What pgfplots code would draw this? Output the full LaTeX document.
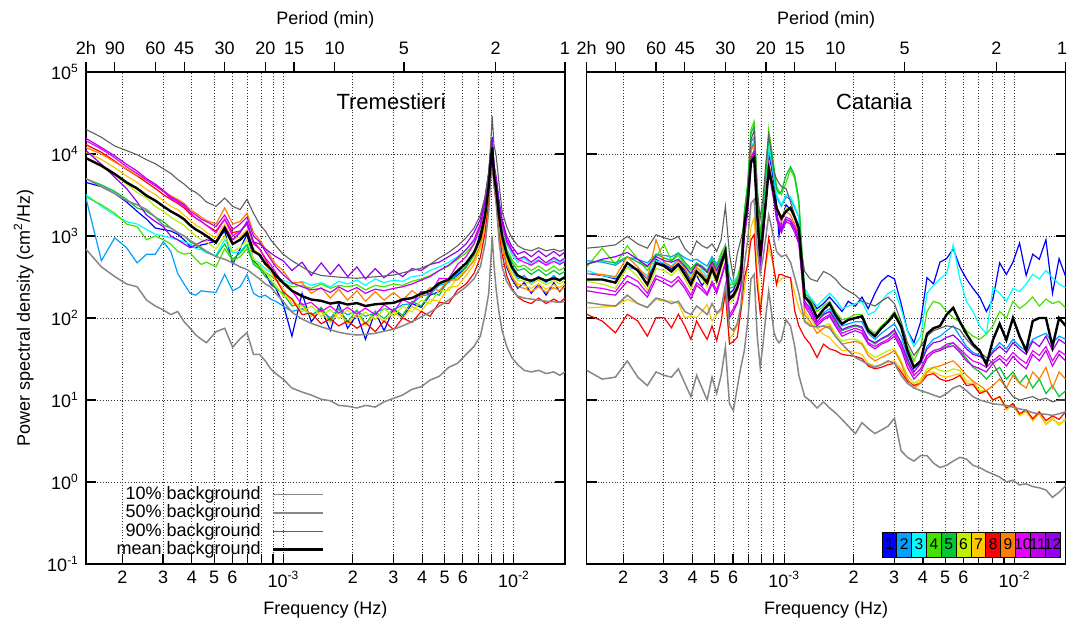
\documentclass[border=0pt]{standalone}
\usepackage{fontspec}
\setmainfont{Liberation Sans}
\usepackage{pgfplots}
\usepackage{pgfplotstable}
\pgfplotsset{compat=1.18}

\definecolor{c1}{RGB}{0,0,255}
\definecolor{c2}{RGB}{0,160,255}
\definecolor{c3}{RGB}{0,255,255}
\definecolor{c4}{RGB}{70,225,0}
\definecolor{c5}{RGB}{0,200,50}
\definecolor{c6}{RGB}{190,240,0}
\definecolor{c7}{RGB}{255,200,0}
\definecolor{c8}{RGB}{255,0,0}
\definecolor{c9}{RGB}{255,128,0}
\definecolor{c10}{RGB}{230,0,255}
\definecolor{c11}{RGB}{190,0,235}
\definecolor{c12}{RGB}{150,0,240}
\definecolor{bglight}{RGB}{135,135,135}
\definecolor{bgdark}{RGB}{95,95,95}

\newcommand\addcolumn[3]{\pgfplotstablecreatecol[create col/set list={#3}]{#2}{#1}}

% frequency = k * 1/(12 h)
% ---------- Tremestieri ----------
\pgfplotstablenew[create on use/k/.style={create col/set list={6,7,8,9,10,11,12,13,14,15,16,17,18,19,20,22,24,26,28,30,32,34,36,38,40,43,47,52,57,63,69,75,82,90,98,108,118,130,142,156,171,187,205,225,246,268,290,309,324,336,343,348,354,362,372,384,402,423,449,479,514,553,596,644,683,720}},columns={k}]{66}\TL
\addcolumn\TL{p90}{20000,16000,12500,11000,9800,8500,7600,6600,5800,4900,4300,3700,3400,3000,2600,2300,2900,2300,2100,2800,1900,1400,1150,900,760,600,500,420,360,330,322,315,310,305,312,318,325,335,355,380,405,450,540,630,760,950,1250,1800,3000,6000,14000,29000,13000,9500,4500,2000,1300,950,760,690,660,720,660,690,650,690}
\addcolumn\TL{p50}{5000,4000,3300,2700,2400,2100,1700,1350,1250,1100,1000,880,800,720,650,560,520,470,420,390,340,300,260,240,200,160,118,97,86,78,72,67,64,62,63,65,69,73,80,90,103,118,140,165,200,240,300,420,800,2000,5500,9000,4500,2500,900,420,280,220,185,175,170,165,160,158,155,160}
\addcolumn\TL{p10}{690,420,320,260,240,165,140,125,110,120,90,75,62,55,50,68,75,44,56,66,36,36,30,24,21,18,14,12.5,11.5,10.2,9.8,8.6,8.4,8.0,8.6,8.2,9.5,10.5,11.5,13.5,14.5,17.5,19.5,25,28,36,45,60,110,200,500,1000,450,220,120,70,45,33,27,23,22,23,21,22,20,22}
\addcolumn\TL{mean}{8900,7200,5700,4500,3800,3100,2700,2300,2000,1800,1600,1350,1200,1100,1000,830,1250,800,900,1100,650,590,460,400,330,270,215,185,168,162,150,156,146,152,140,147,150,153,168,175,198,215,265,295,375,465,630,950,1800,4000,8000,12000,5500,3700,1800,1000,600,420,330,300,285,310,285,305,290,315}
\addcolumn\TL{s1}{4500,4000,3300,2600,2000,1600,1250,1200,1150,1050,900,750,720,780,800,870,1150,450,700,1050,500,420,350,260,230,150,60,200,90,130,70,150,75,110,55,120,70,130,100,150,135,190,210,290,330,420,600,1100,2200,5500,11000,16000,7000,4000,1500,800,420,300,230,270,200,260,190,270,210,250}
\addcolumn\TL{s2}{2900,500,950,720,470,600,600,850,650,350,260,200,190,215,210,205,340,215,240,340,200,180,190,170,160,140,120,130,110,125,100,130,110,120,105,115,130,125,145,150,185,195,250,270,350,420,600,900,1800,4500,9000,12000,6000,4000,1800,1000,560,400,300,330,260,320,270,330,280,320}
\addcolumn\TL{s3}{3200,2300,1800,1500,1400,1200,1050,1000,950,900,850,800,700,680,620,580,900,620,650,800,520,470,400,360,320,290,260,280,250,270,240,280,260,290,250,300,270,290,280,320,330,380,420,480,560,680,850,1300,2400,5000,9000,13000,6500,4500,2300,1300,800,600,480,540,450,520,440,530,460,520}
\addcolumn\TL{s4}{3000,2400,1900,1400,1300,900,1000,900,800,650,600,620,520,450,480,420,700,500,560,700,480,420,360,330,290,270,240,250,230,260,230,250,240,255,220,250,240,260,250,280,300,330,380,430,520,620,800,1200,2200,4500,8500,12000,6000,4200,2000,1200,700,520,420,440,380,430,370,430,380,420}
\addcolumn\TL{s5}{5000,4200,3500,2800,2200,2000,1700,1500,1250,1100,1000,850,780,700,650,560,800,520,620,780,450,400,320,280,230,200,140,150,105,135,92,130,90,125,85,120,98,130,108,160,140,200,190,290,310,420,580,900,1800,4000,7500,11000,5500,3800,1900,1100,650,480,380,400,340,390,330,380,340,370}
\addcolumn\TL{s6}{9000,7000,5500,4300,3400,2900,2300,2000,1700,1500,1350,1150,1000,900,850,700,1000,650,720,900,520,450,360,300,250,185,175,120,140,105,128,98,125,100,118,95,130,105,140,118,165,150,220,215,320,380,520,800,1500,3500,7000,10000,5000,3400,1600,900,520,360,290,280,260,290,255,285,260,290}
\addcolumn\TL{s7}{10500,8600,6800,5400,4500,3700,3200,2700,2300,2100,1800,1550,1350,1250,1100,950,1400,900,980,1200,700,600,450,370,290,230,150,140,105,120,88,118,85,112,82,110,90,118,98,138,120,168,160,235,245,330,450,700,1300,3000,6000,9000,4500,3000,1400,780,450,320,260,250,230,260,225,255,235,260}
\addcolumn\TL{s8}{13000,10500,8200,6500,5400,4500,3800,3200,2800,2500,2200,1850,1650,1500,1350,1150,1600,1100,1150,1400,850,700,520,400,300,210,170,110,115,85,98,80,92,75,88,68,92,72,100,88,120,105,155,150,220,260,350,550,1100,2600,5500,8000,4000,2600,1100,600,330,230,180,160,150,175,150,170,155,175}
\addcolumn\TL{s9}{12000,10000,8000,6600,5500,4800,4100,3500,3100,2800,2500,2100,1900,1700,1550,1400,2200,1400,1500,1900,1100,900,700,560,450,380,270,270,200,235,175,225,165,215,160,210,165,205,165,215,180,235,215,290,290,380,500,780,1500,3500,7000,10500,5000,3400,1500,800,450,320,240,230,210,240,205,235,215,240}
\addcolumn\TL{s10}{14500,11500,9000,7000,5800,4800,4100,3500,2900,2600,2300,1900,1650,1500,1350,1100,1600,1000,1150,1400,800,700,540,450,360,260,215,145,155,120,140,115,135,112,132,110,145,120,168,148,212,195,305,300,450,560,800,1300,2500,5500,10000,14000,7000,4800,2400,1400,850,650,520,480,440,500,440,490,450,490}
\addcolumn\TL{s11}{15500,12000,9500,7500,6200,5000,4300,3600,3000,2700,2400,2000,1800,1600,1500,1300,1800,1200,1400,1700,1000,850,650,520,420,340,270,240,220,230,205,240,210,235,200,225,215,230,240,260,290,320,380,440,540,680,900,1400,2600,5500,10000,13500,7000,5000,2600,1500,900,680,520,560,480,560,470,550,490,540}
\addcolumn\TL{s12}{11000,7500,5200,3800,2600,1800,1500,1300,1000,900,800,720,780,850,900,850,1300,900,1100,1500,850,800,700,620,560,500,380,480,330,470,340,450,320,420,300,400,310,380,320,400,380,450,480,560,650,800,1100,1600,3000,6000,11000,14000,7500,5200,2800,1600,1000,750,600,650,560,660,560,650,570,640}

% ---------- Catania ----------
\pgfplotstablenew[create on use/k/.style={create col/set list={6,7,8,9,10,11,12,13,14,15,16,17,18,19,20,21,22,23,24,25,26,27,28,29,30,31,32,33,34,35,36,37,38,39,40,41,42,44,46,48,50,53,56,60,64,68,72,77,82,88,94,100,107,114,122,130,139,148,158,169,180,192,205,219,234,250,267,285,305,326,348,372,398,425,454,485,518,553,591,631,674,720}},columns={k}]{82}\TR
\addcolumn\TR{p90}{710,740,780,990,800,710,1040,950,900,990,700,590,870,760,710,800,650,900,2300,600,310,600,900,1400,3500,15000,19500,3500,1650,3000,8000,17000,10000,6000,5000,4400,4000,3800,2600,1800,1000,370,300,280,370,340,300,240,214,190,160,150,140,160,180,150,90,50,35,45,60,70,75,80,78,72,55,45,38,33,28,20,14,11,10,10.5,11,10,10.5,9.5,10,10}
\addcolumn\TR{p50}{155,145,140,190,150,135,175,165,150,160,120,110,140,125,110,150,115,130,250,78,70,85,140,450,900,2500,2800,700,350,550,1000,1800,1300,900,650,600,560,590,480,310,200,90,80,78,80,75,60,48,40,33,30,27,25,27,30,28,20,16,14,13,12.3,11.5,10.8,12,14,15,13,11,10,9.5,9,8.8,8.6,8.2,7.8,7.5,7,6.8,6.7,6.5,6.8,7.2}
\addcolumn\TR{p10}{23,18,19,30,19,15,22,20,19,24,16,11,20,14,10,19,12,20,44,9,7.4,14,25,40,90,300,340,60,25,50,110,214,120,67,55,50,54,95,80,45,20,11,9.8,8,9.5,8,7,5.8,4.8,3.9,5.3,4.5,3.9,4.3,4.8,6.0,2.4,2.0,1.8,2.1,2.1,1.7,1.5,1.6,1.8,2.0,1.9,1.6,1.5,1.35,1.25,1.15,1.0,1.05,0.92,0.95,0.88,0.85,0.8,0.65,0.75,0.9}
\addcolumn\TR{mean}{295,295,270,470,380,256,470,430,370,450,340,256,370,320,269,400,290,450,650,169,190,230,320,1370,2600,8000,9000,1800,566,1260,2700,6400,4700,3300,2200,1900,1650,2000,2200,1700,1250,180,154,101,127,150,110,85,95,100,105,70,60,75,90,112,78,40,25,30,64,75,80,110,133,90,64,48,40,27,54,85,54,100,60,40,92,100,100,45,100,80}
\addcolumn\TR{s1}{350,330,300,420,390,300,520,450,400,460,380,290,330,250,300,480,330,450,700,200,220,280,380,1500,3200,12000,14000,2500,700,1500,4000,10000,7000,4000,2500,1000,1500,2400,2100,1700,1300,200,170,130,150,180,150,120,160,140,180,130,200,280,330,300,150,70,50,90,310,260,480,530,700,420,300,230,180,120,170,470,340,480,820,330,600,520,900,200,530,320}
\addcolumn\TR{s2}{500,480,440,550,520,470,600,580,560,620,540,500,520,470,430,560,450,600,780,320,260,300,400,1700,3600,14000,16000,3000,900,1800,4500,11000,8000,5000,3000,2600,2300,3000,2800,2200,1700,190,140,100,115,130,100,80,85,90,90,65,55,65,75,85,60,35,25,28,45,55,60,70,80,60,45,38,35,30,40,50,42,55,45,40,55,60,65,50,60,55}
\addcolumn\TR{s3}{380,330,310,420,400,330,500,470,430,520,420,330,400,380,320,500,380,520,700,260,280,320,420,1600,3400,12500,14000,2800,800,1700,4800,13000,8500,5500,3200,2700,2400,3200,3000,2300,1700,230,180,140,170,200,170,130,140,150,160,110,120,160,200,220,130,70,45,60,200,250,300,350,780,300,160,120,80,64,234,200,160,230,210,260,340,300,380,310,260,234}
\addcolumn\TR{s4}{420,710,450,760,520,380,560,790,500,580,450,380,450,400,360,500,420,620,760,250,260,300,460,2000,4500,20000,25000,4000,1000,2400,6500,20000,12000,7000,4000,3500,3200,4500,6500,5000,2500,200,170,120,140,160,120,95,100,110,110,75,65,80,95,120,85,45,30,45,120,160,150,120,100,90,70,60,55,64,80,120,100,160,130,150,180,140,170,150,160,133}
\addcolumn\TR{s5}{460,500,470,560,480,420,600,540,500,620,480,400,470,430,380,520,420,540,700,230,240,280,420,1900,4200,18000,22000,3600,950,2200,6000,17000,11000,6500,3800,3300,3500,5500,7000,5500,2800,180,150,100,110,120,90,70,75,80,75,55,48,55,60,70,50,30,20,24,35,40,42,45,50,40,32,25,22,18,22,25,18,22,16,20,14,18,12,15,11,13}
\addcolumn\TR{s6}{280,260,230,420,320,220,400,380,330,400,300,220,340,300,240,360,260,400,580,150,170,210,300,1200,2400,9500,11000,2000,550,1200,3000,7500,5200,3600,2200,1800,1600,2200,2100,1600,1200,120,100,75,80,85,65,52,55,55,50,38,33,36,40,42,30,20,16,18,24,25,23,22,24,23,17,17,13,13,10,11,8,9,6.5,7.5,5.6,7,5.1,6.1,4.9,6}
\addcolumn\TR{s7}{133,136,139,169,150,133,169,160,161,150,101,105,101,120,146,92,110,122,180,55,65,80,120,213,450,1300,1660,350,146,250,450,715,550,380,256,280,300,320,309,200,133,95,84,76,63,58,48,40,40,38,36,28,26,27,29,30,24,18,15,17,22,22,20,19,20,21,16,16,12.5,13,10,10.8,7.6,8.6,6.4,7.2,5.6,6.8,5,5.8,5.2,5.6}
\addcolumn\TR{s8}{111,92,66,111,92,60,101,101,76,111,80,55,92,70,55,80,53,90,213,48,52,58,120,309,450,900,1040,250,116,250,500,946,650,400,256,340,340,320,309,122,80,58,48,33,48,42,40,36,35,34,32,26,24,25,27,28,22,17,15,16,20,21,18,17,18,20,15,15.5,12,13,10,11,8,9,6.8,7.6,5.9,7.2,5.6,6.4,5.8,7.2}
\addcolumn\TR{s9}{350,340,320,560,420,300,900,480,420,500,400,300,420,350,300,480,330,500,700,180,200,250,380,1400,2800,11000,13000,2300,600,1300,3200,8000,5500,3500,2000,1800,1500,2000,1800,1400,1000,110,90,65,75,80,60,48,50,52,48,35,30,33,36,40,28,18,14,16,22,25,26,28,30,25,20,17,15,13,15,18,14,20,16,14,22,18,25,14,22,18}
\addcolumn\TR{s10}{240,230,210,330,280,200,330,300,270,320,250,190,270,240,200,280,220,320,480,110,130,160,250,1100,2200,9000,11000,1800,480,1100,2800,7000,4500,3000,1800,1500,1300,1700,1600,1300,950,150,120,85,100,110,85,65,70,75,70,50,45,50,55,65,45,28,20,24,35,40,42,48,50,42,35,30,28,25,30,35,30,38,32,28,40,35,45,30,40,35}
\addcolumn\TR{s11}{215,200,190,280,240,180,300,270,240,290,230,170,250,220,190,260,200,300,450,100,120,150,230,950,1900,7500,9000,1500,400,950,2400,6000,4000,2600,1600,1300,1100,1500,1400,1100,800,140,110,80,95,105,80,60,65,70,65,48,42,48,52,60,42,25,18,22,32,38,40,44,46,38,30,26,24,22,28,32,26,34,28,24,36,30,40,26,36,30}
\addcolumn\TR{s12}{450,520,560,630,520,430,560,500,480,520,430,350,450,420,360,480,380,500,650,170,180,230,380,1150,2300,8500,10000,1700,450,1000,2600,7500,4800,3000,1700,1400,1200,1600,1500,1200,850,160,130,90,110,120,95,72,78,82,78,55,50,56,62,72,50,32,22,28,42,50,52,58,62,52,42,36,34,30,38,45,38,50,42,36,52,45,60,40,55,48}

\newcommand\spec[3]{\addplot[#3] table[x expr=\thisrow{k}*2.3148148e-5, y=#2] {#1};}
\newcommand\labfont{\fontsize{9}{10}\selectfont}
\newcommand\cbox[4]{%
  \filldraw[fill=c#1, draw=black, line width=0.4pt] (rel axis cs:#2,0.0142) rectangle (rel axis cs:#3,0.0649);
  \node[font=\fontsize{7.8}{8}\selectfont, inner sep=0pt] at (rel axis cs:#4,0.0396) {#1};}

\pgfplotsset{
  legend image code/.code={\draw[#1] (0pt,0pt) -- (25pt,0pt);},
}

\begin{document}
\begin{tikzpicture}
\path[use as bounding box] (-43pt,-29.5pt) rectangle (490.5pt,282pt);

% ---- left panel ----
\begin{axis}[
  width=239.5pt, height=246pt, scale only axis,
  xmode=log, ymode=log,
  xmin=1.388889e-4, xmax=1.666667e-2, ymin=0.1, ymax=1e5,
  xtick={2e-4,3e-4,4e-4,5e-4,6e-4,7e-4,8e-4,9e-4,1e-3,2e-3,3e-3,4e-3,5e-3,6e-3,7e-3,8e-3,9e-3,1e-2},
  xticklabels={2,3,4,5,6,,,,10\textsuperscript{-3},2,3,4,5,6,,,,10\textsuperscript{-2}},
  ytick={0.1,1,10,100,1000,10000,100000},
  yticklabels={10\textsuperscript{-1},10\textsuperscript{0},10\textsuperscript{1},10\textsuperscript{2},10\textsuperscript{3},10\textsuperscript{4},10\textsuperscript{5}},
  xminorticks=false, yminorticks=false,
  xtick pos=left, ytick pos=both,
  tick align=inside, major tick length=5pt,
  grid=major,
  major grid style={densely dotted, black!80, line width=0.45pt},
  axis line style={line width=0.8pt},
  tick style={black, line width=0.6pt},
  tick label style={font=\labfont},
  label style={font=\labfont},
  xlabel={Frequency (Hz)},
  ylabel={Power spectral density (cm\textsuperscript{2}/Hz)},
  legend style={at={(0.5104,-0.0042)}, anchor=south east, draw=none, fill=none, font=\labfont, row sep=-2.8pt,
    /tikz/every odd column/.append style={column sep=3.5pt}},
  legend cell align=right, legend plot pos=right,
]
\spec\TL{s1}{c1,line width=0.6pt,forget plot}
\spec\TL{s2}{c2,line width=0.6pt,forget plot}
\spec\TL{s3}{c3,line width=0.6pt,forget plot}
\spec\TL{s4}{c4,line width=0.6pt,forget plot}
\spec\TL{s5}{c5,line width=0.6pt,forget plot}
\spec\TL{s6}{c6,line width=0.6pt,forget plot}
\spec\TL{s7}{c7,line width=0.6pt,forget plot}
\spec\TL{s8}{c8,line width=0.6pt,forget plot}
\spec\TL{s9}{c9,line width=0.6pt,forget plot}
\spec\TL{s10}{c10,line width=0.6pt,forget plot}
\spec\TL{s11}{c11,line width=0.6pt,forget plot}
\spec\TL{s12}{c12,line width=0.6pt,forget plot}
\spec\TL{p10}{bglight,line width=0.75pt}
\addlegendentry{10\% background}
\spec\TL{p50}{bglight,line width=0.75pt}
\addlegendentry{50\% background}
\spec\TL{p90}{bgdark,line width=0.55pt}
\addlegendentry{90\% background}
\spec\TL{mean}{black,line width=1.2pt}
\addlegendentry{mean background}
\node[font=\fontsize{11}{12}\selectfont] at (rel axis cs:0.637,0.94) {Tremestieri};
\end{axis}

\begin{axis}[
  width=239.5pt, height=246pt, scale only axis,
  xmode=log, xmin=1.388889e-4, xmax=1.666667e-2, ymin=0, ymax=1,
  axis x line*=top, axis y line=none,
  x axis line style={-, line width=0.8pt},
  xtick={1.388889e-4,1.851852e-4,2.777778e-4,3.703704e-4,5.555556e-4,8.333333e-4,1.111111e-3,1.666667e-3,3.333333e-3,8.333333e-3,1.666667e-2},
  xticklabels={2h,90,60,45,30,20,15,10,5,2,1},
  xminorticks=false, tick align=outside, major tick length=5pt,
  tick style={black, line width=0.6pt},
  tick label style={font=\labfont},
  label style={font=\labfont},
  xlabel={Period (min)},
]
\addplot[draw=none] coordinates {(1e-3,0.5)};
\end{axis}

% ---- right panel ----
\begin{axis}[
  at={(250.35pt,0pt)},
  width=239.5pt, height=246pt, scale only axis,
  xmode=log, ymode=log,
  xmin=1.388889e-4, xmax=1.666667e-2, ymin=0.1, ymax=1e5,
  xtick={2e-4,3e-4,4e-4,5e-4,6e-4,7e-4,8e-4,9e-4,1e-3,2e-3,3e-3,4e-3,5e-3,6e-3,7e-3,8e-3,9e-3,1e-2},
  xticklabels={2,3,4,5,6,,,,10\textsuperscript{-3},2,3,4,5,6,,,,10\textsuperscript{-2}},
  ytick={0.1,1,10,100,1000,10000,100000},
  yticklabels={},
  xminorticks=false, yminorticks=false,
  xtick pos=left, ytick pos=both,
  tick align=inside, major tick length=5pt,
  grid=major,
  major grid style={densely dotted, black!80, line width=0.45pt},
  axis line style={line width=0.8pt},
  tick style={black, line width=0.6pt},
  tick label style={font=\labfont},
  label style={font=\labfont},
  xlabel={Frequency (Hz)},
]
\spec\TR{s1}{c1,line width=0.6pt}
\spec\TR{s2}{c2,line width=0.6pt}
\spec\TR{s3}{c3,line width=0.6pt}
\spec\TR{s4}{c4,line width=0.6pt}
\spec\TR{s5}{c5,line width=0.6pt}
\spec\TR{s6}{c6,line width=0.6pt}
\spec\TR{s7}{c7,line width=0.6pt}
\spec\TR{s8}{c8,line width=0.6pt}
\spec\TR{s9}{c9,line width=0.6pt}
\spec\TR{s10}{c10,line width=0.6pt}
\spec\TR{s11}{c11,line width=0.6pt}
\spec\TR{s12}{c12,line width=0.6pt}
\spec\TR{p10}{bglight,line width=0.75pt}
\spec\TR{p50}{bglight,line width=0.75pt}
\spec\TR{p90}{bgdark,line width=0.55pt}
\spec\TR{mean}{black,line width=1.2pt}
\node[font=\fontsize{11}{12}\selectfont] at (rel axis cs:0.6,0.94) {Catania};
\cbox{1}{0.6165}{0.6475}{0.6320}
\cbox{2}{0.6475}{0.6784}{0.6630}
\cbox{3}{0.6784}{0.7094}{0.6939}
\cbox{4}{0.7094}{0.7403}{0.7249}
\cbox{5}{0.7403}{0.7713}{0.7558}
\cbox{6}{0.7713}{0.8023}{0.7868}
\cbox{7}{0.8023}{0.8332}{0.8178}
\cbox{8}{0.8332}{0.8642}{0.8487}
\cbox{9}{0.8642}{0.8951}{0.8797}
\cbox{10}{0.8951}{0.9261}{0.9106}
\cbox{11}{0.9261}{0.9571}{0.9416}
\cbox{12}{0.9571}{0.9880}{0.9726}
\end{axis}

\begin{axis}[
  at={(250.35pt,0pt)},
  width=239.5pt, height=246pt, scale only axis,
  xmode=log, xmin=1.388889e-4, xmax=1.666667e-2, ymin=0, ymax=1,
  axis x line*=top, axis y line=none,
  x axis line style={-, line width=0.8pt},
  xtick={1.388889e-4,1.851852e-4,2.777778e-4,3.703704e-4,5.555556e-4,8.333333e-4,1.111111e-3,1.666667e-3,3.333333e-3,8.333333e-3,1.666667e-2},
  xticklabels={2h,90,60,45,30,20,15,10,5,2,\hspace*{-3.5pt}1},
  xminorticks=false, tick align=outside, major tick length=5pt,
  tick style={black, line width=0.6pt},
  tick label style={font=\labfont},
  label style={font=\labfont},
  xlabel={Period (min)},
]
\addplot[draw=none] coordinates {(1e-3,0.5)};
\end{axis}
\end{tikzpicture}
\end{document}
